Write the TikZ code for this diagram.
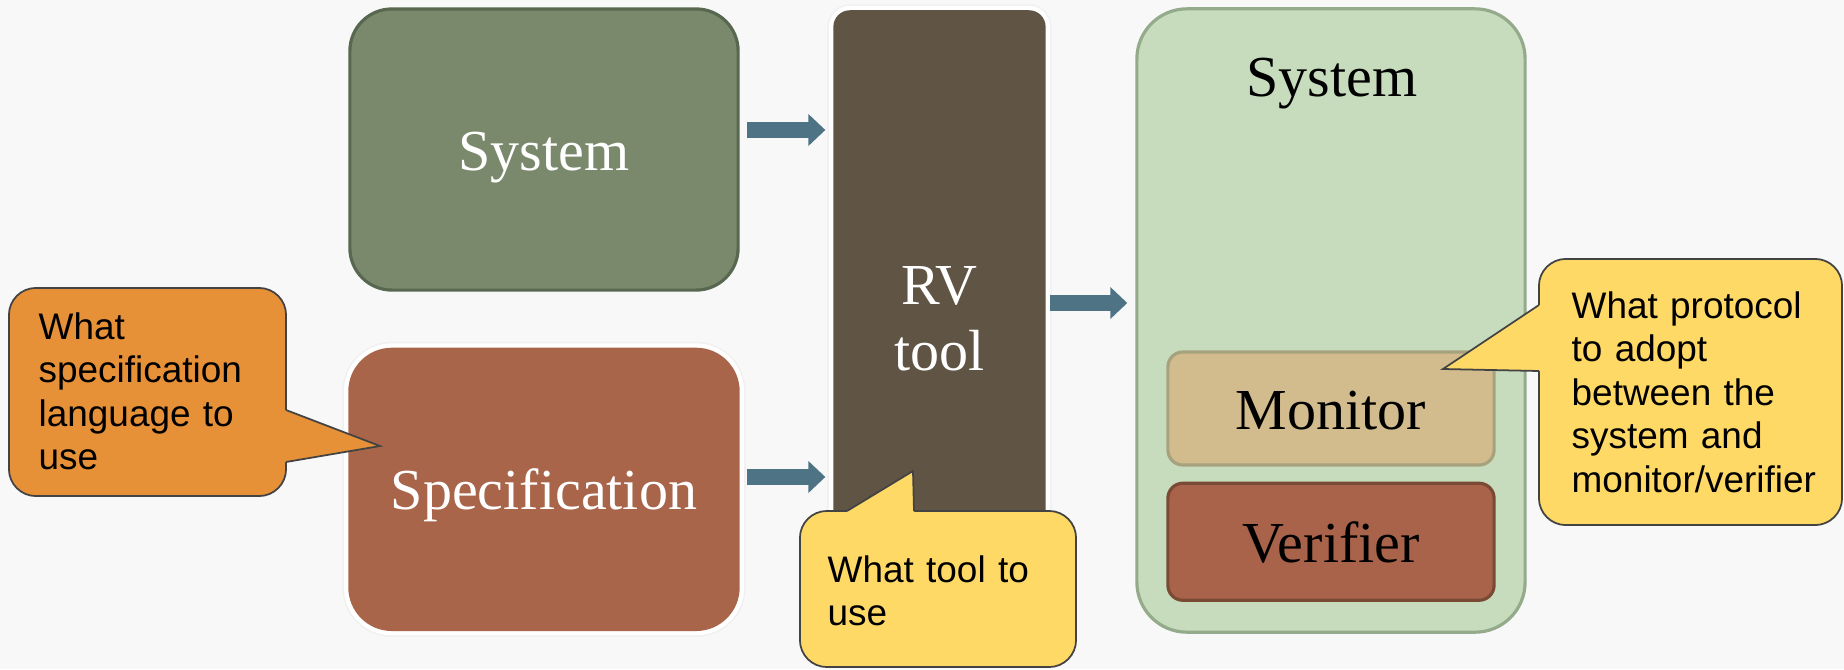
\documentclass[tikz,border=0pt]{standalone}
\usepackage{fontspec}
\setmainfont{Liberation Serif}
\newfontfamily\globofont{Liberation Sans}
\usetikzlibrary{arrows.meta,positioning}
\definecolor{fondo}{HTML}{F8F8F8}
\definecolor{verde}{HTML}{7A896C}
\definecolor{verdeosc}{HTML}{586850}
\definecolor{teja}{HTML}{A9654A}
\definecolor{cafe}{HTML}{605445}
\definecolor{menta}{HTML}{C6DCBC}
\definecolor{mentaosc}{HTML}{93AB8B}
\definecolor{arena}{HTML}{D2BB8C}
\definecolor{arenaosc}{HTML}{A7A27E}
\definecolor{ladrillo}{HTML}{A9634A}
\definecolor{ladrillosc}{HTML}{7B4A35}
\definecolor{azulgris}{HTML}{4D7385}
\definecolor{naranja}{HTML}{E69138}
\definecolor{amarillo}{HTML}{FFD966}
\definecolor{borde}{HTML}{434343}
\tikzset{
  caja/.style={rounded corners=0.42cm,line width=0.9pt,inner sep=0pt,text=white,font=\fontsize{16.5}{18.8}\selectfont,text height=0.41cm,text depth=0pt},
  halo/.style={preaction={draw=black!6,line width=0.15cm},preaction={draw=white,line width=0.12cm}},
  pieza/.style={rounded corners=0.15cm,line width=0.9pt,inner sep=0pt,text=black,font=\fontsize{16.5}{18.8}\selectfont,text height=0.41cm,text depth=0pt,minimum width=3.26cm},
  flecha/.style={draw=azulgris,line width=0.165cm,-{Triangle[length=0.17cm,width=0.31cm]}},
  globo/.style={rounded corners=0.27cm,draw=borde,line width=0.5pt},
  globotexto/.style={font=\globofont\fontsize{10.5}{12.4}\selectfont,align=left,inner sep=0pt,anchor=base west},
  punta/.style={draw=borde,line width=0.5pt,line join=miter},
}
\begin{document}
\begin{tikzpicture}[x=0.01cm,y=-0.01cm]
\fill[fondo] (0,0) rectangle (1844,669);
\useasboundingbox (0,0) rectangle (1844,669);
\coordinate (h1) at (0,130);
\coordinate (h2) at (0,477);
\coordinate (h3) at (0,303);
\coordinate (puntaesp) at (380,446);
\coordinate (puntarv) at (913,471);
\coordinate (puntaprot) at (1443,369);
% entrada
\node[caja,fill=verde,draw=verdeosc,minimum width=3.88cm,minimum height=2.81cm] (sistema) at (544,149.5) {System};
\node[caja,halo,fill=teja,draw=teja,minimum width=3.88cm,minimum height=2.8cm,below=0.56cm of sistema] (espec) {Specification};
\node[caja,halo,fill=cafe,draw=cafe,rounded corners=0.15cm,minimum width=2.09cm,minimum height=6.14cm,align=center,text height=,text depth=] (rv) at (939.5,319) {RV\\tool};
% salida
\node[caja,fill=menta,draw=mentaosc,rounded corners=0.5cm,minimum width=3.88cm,minimum height=6.23cm] (contenedor) at (1331,320.5) {};
\node[font=\fontsize{16.5}{18.8}\selectfont,anchor=base,inner sep=0pt] (titulo) at (1332,96) {System};
\node[pieza,fill=arena,draw=arenaosc,minimum height=1.13cm] (monitor) at (1331,408.5) {Monitor};
\node[pieza,fill=ladrillo,draw=ladrillosc,minimum height=1.17cm,below=0.15cm of monitor] (verificador) {Verifier};
\draw[flecha,shorten <=0.07cm,shorten >=0.08cm] (sistema.east |- h1) -- (rv.west |- h1);
\draw[flecha,shorten <=0.07cm,shorten >=0.08cm] (espec.east |- h2) -- (rv.west |- h2);
\draw[flecha,shorten <=0.04cm,shorten >=0.08cm] (rv.east |- h3) -- (contenedor.west |- h3);
% globos
\node[globo,fill=naranja,minimum width=2.77cm,minimum height=2.08cm] (globoesp) at (147.5,392) {};
\fill[naranja] (282,410) -- (286,410) -- (puntaesp) -- (286,462) -- (282,462) -- cycle;
\draw[punta] (286,410) -- (puntaesp) -- (286,462);
\node[globotexto,text width=2.45cm] (txtesp) at (38,339) {What\\specification\\language to\\use};
\node[globo,fill=amarillo,minimum width=2.76cm,minimum height=1.56cm] (globorv) at (938,589) {};
\fill[amarillo] (847,515) -- (847,511) -- (puntarv) -- (914,511) -- (914,515) -- cycle;
\draw[punta] (847,511) -- (puntarv) -- (914,511);
\node[globotexto,text width=2.4cm] (txtrv) at (827,582) {What tool to\\use};
\node[globo,fill=amarillo,minimum width=3.03cm,minimum height=2.66cm] (globoprot) at (1690.5,392) {};
\fill[amarillo] (1543,305) -- (1539,305) -- (puntaprot) -- (1539,371) -- (1543,371) -- cycle;
\draw[punta] (1539,305) -- (puntaprot) -- (1539,371);
\node[globotexto,text width=2.65cm] (txtprot) at (1571,318) {What protocol\\to adopt\\between the\\system and\\monitor/verifier};
\end{tikzpicture}
\end{document}
